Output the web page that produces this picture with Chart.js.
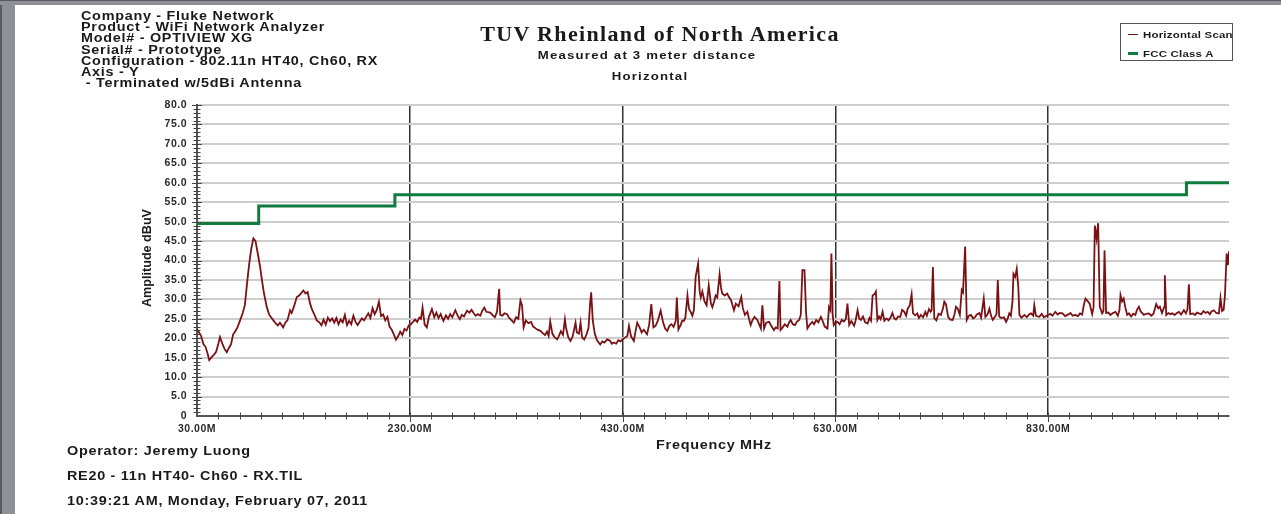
<!DOCTYPE html>
<html><head><meta charset="utf-8">
<script src="https://cdn.jsdelivr.net/npm/chart.js@4/dist/chart.umd.min.js"></script>
<style>
html,body{margin:0;padding:0;background:#fff;}
body{width:1281px;height:514px;position:relative;overflow:hidden;font-family:"Liberation Sans",Arial,sans-serif;}
#c{position:absolute;left:0;top:0;}
.lb{position:absolute;left:0;top:0;width:15px;height:514px;background:#909196;border-left:2px solid #5a5b5f;box-sizing:border-box;}
.tb{position:absolute;left:0;top:0;width:1281px;height:5px;background:#909196;border-top:1px solid #5a5b5f;box-sizing:border-box;}
.s{position:absolute;font-weight:bold;color:#1a1a1a;white-space:pre;transform-origin:0 0;transform:scaleX(1.2);}
.hdr{left:81px;top:11px;font-size:12px;line-height:11.2px;letter-spacing:0.6px;}
.ctr{width:600px;text-align:center;transform-origin:50% 50%;}
.title{left:360px;top:22px;font-family:"Liberation Serif","Times New Roman",serif;font-size:20px;letter-spacing:1.2px;transform:scaleX(1.1);line-height:24px;}
.sub{left:347px;top:48px;font-size:11px;letter-spacing:1px;line-height:14px;}
.hz{left:350px;top:69px;font-size:11px;letter-spacing:1px;line-height:14px;}
.bot{left:67px;font-size:12px;letter-spacing:0.6px;line-height:14px;}
.xt{left:414px;top:438px;font-size:12px;letter-spacing:0.6px;line-height:14px;}
.yt{left:147px;top:258px;font-size:12px;letter-spacing:0px;line-height:14px;transform-origin:50% 50%;transform:translate(-50%,-50%) rotate(-90deg) scaleX(1.05);}
.leg{position:absolute;left:1120px;top:23px;width:113px;height:38px;border:1px solid #555;box-sizing:border-box;}
.leg .ln{position:absolute;left:7px;width:10px;}
.leg .tx{position:absolute;left:22px;font-size:9.5px;font-weight:bold;letter-spacing:0.2px;white-space:pre;transform-origin:0 50%;transform:scaleX(1.2);color:#1a1a1a;line-height:11px;}
</style></head>
<body>
<div class="lb"></div><div class="tb"></div>
<canvas id="c" width="1281" height="514"></canvas>
<div class="s hdr">Company - Fluke Network
Product - WiFi Network Analyzer
Model# - OPTIVIEW XG
Serial# - Prototype
Configuration - 802.11n HT40, Ch60, RX
Axis - Y
 - Terminated w/5dBi Antenna</div>
<div class="s ctr title">TUV Rheinland of North America</div>
<div class="s ctr sub">Measured at 3 meter distance</div>
<div class="s ctr hz">Horizontal</div>
<div class="s ctr xt">Frequency MHz</div>
<div class="s yt">Amplitude dBuV</div>
<div class="s bot" style="top:444px">Operator: Jeremy Luong</div>
<div class="s bot" style="top:469px">RE20 - 11n HT40- Ch60 - RX.TIL</div>
<div class="s bot" style="top:494px">10:39:21 AM, Monday, February 07, 2011</div>
<div class="leg">
  <div class="ln" style="top:10px;height:0;border-top:1.5px solid #7f1417"></div>
  <div class="tx" style="top:5px">Horizontal Scan</div>
  <div class="ln" style="top:28px;height:3px;background:#0f7b3f"></div>
  <div class="tx" style="top:24px">FCC Class A</div>
</div>
<script>
// ---- data ----
const freqMHz = [
30,32,34,36,38,40,41.5,44,46,48,
50,51.6,54,56,58,60,62,64,66,68,
70.5,73,75,77,79,81,83,85,87,89.3,
91,93,95.6,98,101.8,104,106,108,111,113,
115,117.5,119,121,123.8,126,128,130,132,134,
136.3,138,140,142.6,145,147,149,151,153,155,
157,159,161,163,165,167,169,171,173,175,
177,179,181,183,185,187,189,191,193,195,
197,199,201,203,205,207,209,211,213,215,
217,219,221,223,225,227,229,231,233,235,
237,239,240.5,242,244,246,248,250.8,253,255,
257,259,261.6,264,266,268,270,272.8,275,277,
279,281,283.8,286,288,290,292,294,296.3,298,
300,302,305.7,308,310,312,314,315,317,319,
321.5,323,325,327.8,330,332,334,335.5,337,339,
341.5,344,346,348,350,352.8,355,357,359,360.5,
362,364,366,368.5,370,372,374,375.8,377,379,
381,383,385.8,387,389,390.5,392,394,396,398,
399.5,400.5,402,404,406,409,411,413,415.5,418,
420,421.7,424,426,428,430,432,434.5,436,438,
440.6,442,443.8,446,448,450,453,455,457,459,
461,463,465.8,468,470,472,474,476,478,480,
481,482.5,484.6,486,487.7,489,491,492.5,494,495.6,
497,498.7,501,502.5,503.5,505,507,509,511,513,
514.4,516,517.5,519,521.2,522.5,523.7,526,528.4,530,
532,534.7,536.5,539,541.6,543,545,547.3,549,550.4,
552,554,556.7,558.5,560,561.4,563,565,567.7,570,
572.3,574,575.8,577.4,578.5,580.5,582.5,584.9,586.5,588,
590,592,594,596,597.5,599,601,602.5,603.7,606,
608.4,610,612,614,616.4,618,620,622.6,624,625.3,
626.3,627.5,628.5,630,632,634,636,638,639.8,641.4,
643,645,647.6,649,650.9,652.5,654,656,658,660.3,
662,663.5,665,667,668.1,669.5,671,672.5,674.4,676,
678,680,682,683.6,685.4,687,689,691,692.8,694.8,
696.5,698,700,701.7,703,705,707,708.5,710.4,712.5,
714.5,716,718,719.5,720.5,721.7,723,725,727,729.2,
731,732.4,734,736,738,740.3,742,743.4,745,747,
748.8,750,752,753.5,755.5,757.5,759.5,761.5,763,765.4,
767,769.5,771,773,774.8,776.5,778,780,781.5,782.7,
784,786,788.5,790.5,792,793.5,795,796.5,797.4,799,
800.5,802,803,805,807.7,810,812,814,816,817,
818.5,820,821.8,824,826,828,830,832,834,836.8,
839,841,843.5,846,849.4,851,853,855.7,858,860,
862,863.5,865.1,867,869,871.4,872.7,873.9,875.5,877,
878.5,880.8,882,883,884.5,886.5,888.6,890.5,893.3,895.5,
897,898,899.5,901,902.5,904.3,906,908,910,912,
913.5,915.3,917,920,922,924.7,927,929,931.6,933.5,
935,937,939,939.7,941,943,945,946.6,949,951,
952.9,955,957.6,959.5,961,962.3,963.5,966,968,970,
971.7,974,976,978,980,982,983.5,985.8,988,990.5,
992,993.5,995,996.2,997.8,999,1000
];
const hScan = [
22.4,21.5,20.5,18.5,17.8,16,14.4,15.2,15.8,16.5,
18.5,20.3,18.5,17.2,16.4,17.5,18.5,21,21.8,22.8,
24.6,26.5,28.5,34,39,43,45.7,45,42,38.4,
35,31.5,28,26,24.6,23.8,23.3,24,22.8,24,
24.6,27.2,26.5,28,30.6,31,31.6,32.3,31.5,31.9,
28.9,27.5,26.3,24.6,24.1,23.3,24.8,23.5,25.3,24.4,
25.1,24,25.2,23.6,24.8,24.1,26,23.4,24.5,23.6,
25.8,24.2,23.4,24.3,25.1,24.6,25.5,26.4,25.2,27.7,
26.2,27.3,29.4,25.7,26.1,24.6,25.5,23,22.2,21,
19.6,20.5,21.7,20.8,22.4,22,23.3,23.6,24.2,24.8,
24.2,25.3,25,27.9,23.5,22.8,25.5,27.5,25.4,26.6,
25.2,26.2,24.5,25.9,25,26.2,25.4,27.2,25.8,24.9,
26,25.6,27.1,26.6,27.3,26.5,25.8,26.2,25.8,27,
27.9,26.8,26.6,25.9,25.4,26.8,32.7,26,25.8,26.4,
26.2,25.4,24.8,24,25.4,25,29.7,28.5,22.8,24.6,
23.9,24.2,23,22.6,22.2,21.9,21.3,20.8,21.7,20.6,
24.3,21.2,20.3,19.7,20.5,21.8,20.9,24.9,22.5,20.2,
19.3,20.4,24,21.5,21.2,24,20.2,19.7,20.9,22.6,
29,31.8,24.5,21,19.5,18.4,19.2,18.9,19.7,19.4,
18.6,18.9,18.6,19.5,19.2,19.7,20.1,20.6,23.2,20.5,
19.3,21.5,24,22.8,21.5,22.2,21,23.5,28.8,22.8,
23.2,24.4,27.1,24.2,22.5,21.9,23.2,23.6,22.9,24.5,
30.5,22.3,23.4,24.5,24.5,25.3,31,27.5,26.8,25.8,
27.2,35.8,39.2,32,30.5,32,29.5,28.5,33.6,29,
28,29.4,31,30.5,36.5,33,31.5,31,31.5,30.6,
29.8,27.2,28.9,28.2,30.6,27.8,26,26.8,24.8,23.4,
24.6,25.5,24.7,23.5,22.5,28.5,22.5,24,24.2,23.1,
22.1,22.8,22.5,34.7,22.1,22.8,23.6,23,24.1,24.7,
23.6,23.4,24.3,24.7,26,37.5,37.5,26.5,22.5,23.5,
24.2,23.6,24.7,24.1,25.5,24.5,23,22.5,28,27.2,
41.8,26,23.4,24,24.2,23.6,24.7,24.3,24.9,28.9,
23.4,24.4,23.2,24.5,27.2,25,24.7,25.6,24.1,23.8,
25.2,24.5,31,31.4,32,24.7,25.6,24.9,26.8,24.5,
25.1,24.6,25.4,26.5,25.1,24.8,25.6,25.5,27.3,26.8,
25.8,27.6,28.5,31.3,26.4,25.9,26.4,25.2,26,25.4,
26.8,25.8,27.5,26.8,27.2,38.3,25.1,24.6,26.3,26,
27.5,29.4,28.7,25.5,24.8,24.7,26.2,28.1,27.6,26,
32.4,31.8,43.6,24.7,25.8,26,25.1,25.5,26.1,26.5,
25.3,30.2,25.5,26.1,27.6,25.7,24.7,25.5,26.2,35,
25.6,25.2,25.4,24.2,25.1,26.4,25.8,29.5,36.6,35.8,
37.9,33,26,25.3,26,25.4,26.1,26.4,25.8,28.5,
25.8,25.6,25.5,26.3,25.4,25.7,26,26.3,25.8,26.8,
26.1,26.5,26.4,25.7,26.2,26.5,25.8,26,25.7,26.4,
26.1,28.5,30.2,29.6,28.9,26.2,28,49,45.6,49.6,
28.1,26.4,27,42.6,26.5,26.6,26,26.4,26.8,25.8,
27.2,31.1,29.5,30.2,28,26,26.4,25.6,26.3,26,
27.3,28.1,26.9,26,26.3,26.4,25.8,26.3,28.8,27.7,
28.1,26.5,28,36.2,26,26.5,26.2,26.4,26,26.5,
26.8,26.1,27.2,26.4,27.5,33.9,26.2,26.4,26,26.6,
26.4,26.2,27,26.5,26.8,26.2,26.9,27.2,26.5,26.4,
30.4,27,27.3,31.1,41.8,38.8,42.4
];
const fccFreq  = [30, 88, 216, 960, 1000];
const fccLimit = [49.5, 54, 56.9, 60, 60];
const xTickValues = [30, 230, 430, 630, 830];
const seriesNames = ['Horizontal Scan', 'FCC Class A'];

// ---- chart ----
const FONT = '"Liberation Sans", Arial, sans-serif';
const minorTicks = {
  id: 'minorTicks',
  beforeDraw(chart) { chart.ctx.letterSpacing = '0.5px'; },
  afterDraw(chart) {
    const {ctx, scales: {x, y}} = chart;
    ctx.save();
    ctx.letterSpacing = '0px';
    ctx.strokeStyle = '#444';
    ctx.lineWidth = 1;
    const ax = x.left, ay = y.bottom;
    for (let v = 1; v <= 80; v += 1) {
      const py = Math.round(y.getPixelForValue(v)) + 0.5;
      const len = v % 5 === 0 ? 5 : 3.5;
      ctx.beginPath(); ctx.moveTo(ax - len, py); ctx.lineTo(ax + len, py); ctx.stroke();
    }
    for (let f = 50; f <= 990; f += 20) {
      const px = Math.round(x.getPixelForValue(f)) + 0.5;
      const major = xTickValues.includes(f);
      ctx.beginPath(); ctx.moveTo(px, ay - 3.5); ctx.lineTo(px, ay + (major ? 6 : 3.5)); ctx.stroke();
    }
    ctx.restore();
  }
};

new Chart(document.getElementById('c').getContext('2d'), {
  type: 'line',
  data: {
    datasets: [
      { label: seriesNames[0], data: freqMHz.map((f, i) => ({x: f, y: hScan[i]})),
        borderColor: '#7a1215', borderWidth: 1.8, pointRadius: 0, tension: 0 },
      { label: seriesNames[1], data: fccFreq.map((f, i) => ({x: f, y: fccLimit[i]})),
        borderColor: '#0f7b3f', borderWidth: 3, pointRadius: 0, stepped: 'before' }
    ]
  },
  options: {
    responsive: false, animation: false, devicePixelRatio: 1,
    layout: { padding: { top: 105, right: 52, left: 0, bottom: 0 } },
    plugins: { legend: { display: false }, tooltip: { enabled: false } },
    scales: {
      x: {
        type: 'linear', min: 30, max: 1000,
        afterFit(s) { s.height = 98; },
        afterBuildTicks(s) { s.ticks = xTickValues.map(v => ({value: v})); },
        grid: { color: c => (c.tick && c.tick.value === 30) ? 'rgba(0,0,0,0)' : '#333', lineWidth: 1.5, drawTicks: false },
        border: { color: '#555', width: 2 },
        ticks: { padding: 7, color: '#2a2a2a', autoSkip: false, maxRotation: 0,
                 font: { family: FONT, size: 10.5, weight: 'bold' },
                 callback: v => Number(v).toFixed(2) + 'M' }
      },
      y: {
        min: 0, max: 80,
        afterFit(s) { s.width = 197; },
        grid: { color: '#cdcdcd', lineWidth: 2, drawTicks: false },
        border: { color: '#555', width: 2 },
        ticks: { stepSize: 5, padding: 10, color: '#2a2a2a',
                 font: { family: FONT, size: 10.5, weight: 'bold' },
                 callback: v => v === 0 ? '0' : Number(v).toFixed(1) }
      }
    }
  },
  plugins: [minorTicks]
});
</script>
</body></html>
